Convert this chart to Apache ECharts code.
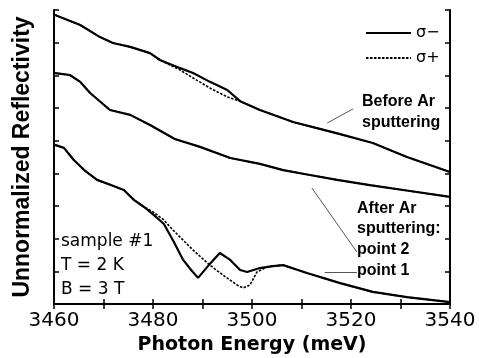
<!DOCTYPE html>
<html><head><meta charset="utf-8">
<script src="https://cdn.jsdelivr.net/npm/echarts@6/dist/echarts.min.js"></script>
<style>html,body{margin:0;padding:0;background:#fff}#c{width:479px;height:358px}</style>
</head><body><div id="c"></div>
<script>
// Photon energy (meV) vs unnormalized reflectivity (arb. units)
const xTicks = [3460, 3480, 3500, 3520, 3540];
const beforeMinus = [[3460.2,8.85],[3465.3,8.54],[3469.3,8.17],[3471.9,7.99],[3475.4,7.87],[3479.4,7.68],[3481.4,7.47],[3485.5,7.22],[3488.1,7.07],[3491.5,6.80],[3495.0,6.55],[3497.6,6.21],[3501.6,5.94],[3508.3,5.57],[3513.7,5.36],[3517.8,5.20],[3524.4,4.93],[3531.3,4.50],[3540,4.04]];
const beforePlus = [[3460.2,8.85],[3465.3,8.54],[3469.3,8.17],[3471.9,7.99],[3475.4,7.87],[3479.4,7.68],[3481.4,7.47],[3485.5,7.16],[3488.1,6.92],[3491.5,6.61],[3495.0,6.34],[3497.6,6.21],[3501.6,5.94],[3508.3,5.57],[3513.7,5.36],[3517.8,5.20],[3524.4,4.93],[3531.3,4.50],[3540,4.04]];
const point2 = [[3460.2,7.07],[3463.2,7.01],[3465.3,6.80],[3467.3,6.46],[3471.3,5.94],[3475.4,5.79],[3479.4,5.48],[3484.4,5.05],[3489.5,4.81],[3495.6,4.47],[3501.6,4.29],[3506.3,4.10],[3511.7,3.95],[3517.2,3.80],[3523.8,3.64],[3531.9,3.46],[3540,3.28]];
const point1Minus = [[3460.2,4.87],[3462.0,4.78],[3464.0,4.41],[3466.1,4.10],[3468.7,3.80],[3471.5,3.64],[3474.1,3.49],[3476.2,3.18],[3478.2,2.97],[3480.2,2.72],[3482.2,2.45],[3484.0,1.96],[3486.1,1.35],[3487.7,1.04],[3489.1,0.80],[3491.1,1.16],[3493.5,1.56],[3495.6,1.35],[3497.6,1.04],[3499.0,0.98],[3501.6,1.10],[3504.2,1.16],[3506.3,1.19],[3511.1,0.95],[3517.8,0.64],[3524.4,0.37],[3531.3,0.21],[3540,0.06]];
const point1Plus = [[3460.2,4.87],[3462.0,4.78],[3464.0,4.41],[3466.1,4.10],[3468.7,3.80],[3471.5,3.64],[3474.1,3.49],[3476.2,3.18],[3478.2,2.97],[3480.0,2.82],[3482.2,2.57],[3484.0,2.27],[3488.1,1.65],[3491.5,1.19],[3494.1,0.89],[3497.0,0.58],[3498.2,0.49],[3499.6,0.58],[3501.0,0.98],[3503.0,1.13],[3504.2,1.16],[3506.3,1.19],[3511.1,0.95],[3517.8,0.64],[3524.4,0.37],[3531.3,0.21],[3540,0.06]];
// annotation arrows [from, to] in data coordinates
const arrowBefore = [[3520.4,5.97],[3515.2,5.54]];
const arrowPoint2 = [[3521.2,1.59],[3512.1,3.55]];
const arrowPoint1 = [[3521.2,0.98],[3514.7,0.98]];

const FONT = '"Liberation Sans", Arial, sans-serif';
const WIDE = '"DejaVu Sans", sans-serif';
const solid = {color:'#000', width:2.2};
const dotted = {color:'#000', width:1.6, type:[2.5,1.5]};
function mkArrow(a){return [{coord:a[0]},{coord:a[1]}];}

const chart = echarts.init(document.getElementById('c'), null, {renderer:'canvas'});
chart.setOption({
  animation:false,
  backgroundColor:'#fff',
  grid:{left:54, right:29, top:10, bottom:54, containLabel:false, outerBoundsMode:'none'},
  legend:{
    data:['σ−','σ+'], orient:'vertical', left:365, top:25, padding:0,
    itemWidth:45, itemHeight:14, itemGap:9, itemStyle:{opacity:0},
    textStyle:{fontFamily:WIDE, fontSize:16, color:'#000'}
  },
  xAxis:[{
    type:'value', min:3460, max:3540, interval:10,
    axisLine:{lineStyle:{color:'#000', width:2}},
    axisTick:{inside:true, length:5, lineStyle:{color:'#000', width:1.5}},
    axisLabel:{fontFamily:WIDE, fontSize:20, color:'#000', margin:7,
      formatter:v => xTicks.indexOf(v) >= 0 ? String(v) : ''},
    splitLine:{show:false},
    name:'Photon Energy (meV)', nameLocation:'middle', nameGap:30,
    nameTextStyle:{fontFamily:WIDE, fontSize:19, fontWeight:'bold', color:'#000'}
  },{
    type:'value', position:'top', min:3460, max:3540, interval:10,
    axisLine:{lineStyle:{color:'#000', width:2}},
    axisTick:{inside:true, length:5, lineStyle:{color:'#000', width:1.5}},
    axisLabel:{show:false}, splitLine:{show:false}
  }],
  yAxis:[{
    type:'value', min:0, max:9, interval:1,
    axisLine:{show:true, lineStyle:{color:'#000', width:2}},
    axisTick:{show:true, inside:true, length:5, lineStyle:{color:'#000', width:1.5}},
    axisLabel:{show:false}, splitLine:{show:false},
    name:'Unnormalized Reflectivity', nameLocation:'middle', nameGap:20,
    nameTextStyle:{fontFamily:FONT, fontSize:23, fontWeight:'bold', color:'#000'}
  },{
    type:'value', position:'right', min:0, max:9, interval:1,
    axisLine:{show:true, lineStyle:{color:'#000', width:2}},
    axisTick:{show:true, inside:true, length:5, lineStyle:{color:'#000', width:1.5}},
    axisLabel:{show:false}, splitLine:{show:false}
  }],
  series:[
    {name:'σ−', type:'line', data:beforeMinus, symbol:'none', lineStyle:solid, color:'#000'},
    {name:'σ−', type:'line', data:point2, symbol:'none', lineStyle:solid, color:'#000'},
    {name:'σ−', type:'line', data:point1Minus, symbol:'none', lineStyle:solid, color:'#000',
      markLine:{silent:true, symbol:['none','arrow'], symbolSize:[0,7], label:{show:false},
        lineStyle:{color:'#555', width:1, type:'solid'},
        data:[mkArrow(arrowBefore), mkArrow(arrowPoint2), mkArrow(arrowPoint1)]}},
    {name:'σ+', type:'line', data:beforePlus, symbol:'none', lineStyle:dotted, color:'#000'},
    {name:'σ+', type:'line', data:point2, symbol:'none', lineStyle:dotted, color:'#000'},
    {name:'σ+', type:'line', data:point1Plus, symbol:'none', lineStyle:dotted, color:'#000'}
  ],
  graphic:[
    {type:'text', left:362, top:91, style:{text:'Before Ar\nsputtering', font:'bold 16px '+FONT, lineHeight:21, fill:'#000'}},
    {type:'text', left:357, top:198, style:{text:'After Ar\nsputtering:\npoint 2\npoint 1', font:'bold 16px '+FONT, lineHeight:20.7, fill:'#000'}},
    {type:'text', left:61, top:230, style:{text:'sample #1\nT = 2 K\nB = 3 T', font:'17px '+WIDE, lineHeight:24, fill:'#000'}}
  ]
});
</script></body></html>
